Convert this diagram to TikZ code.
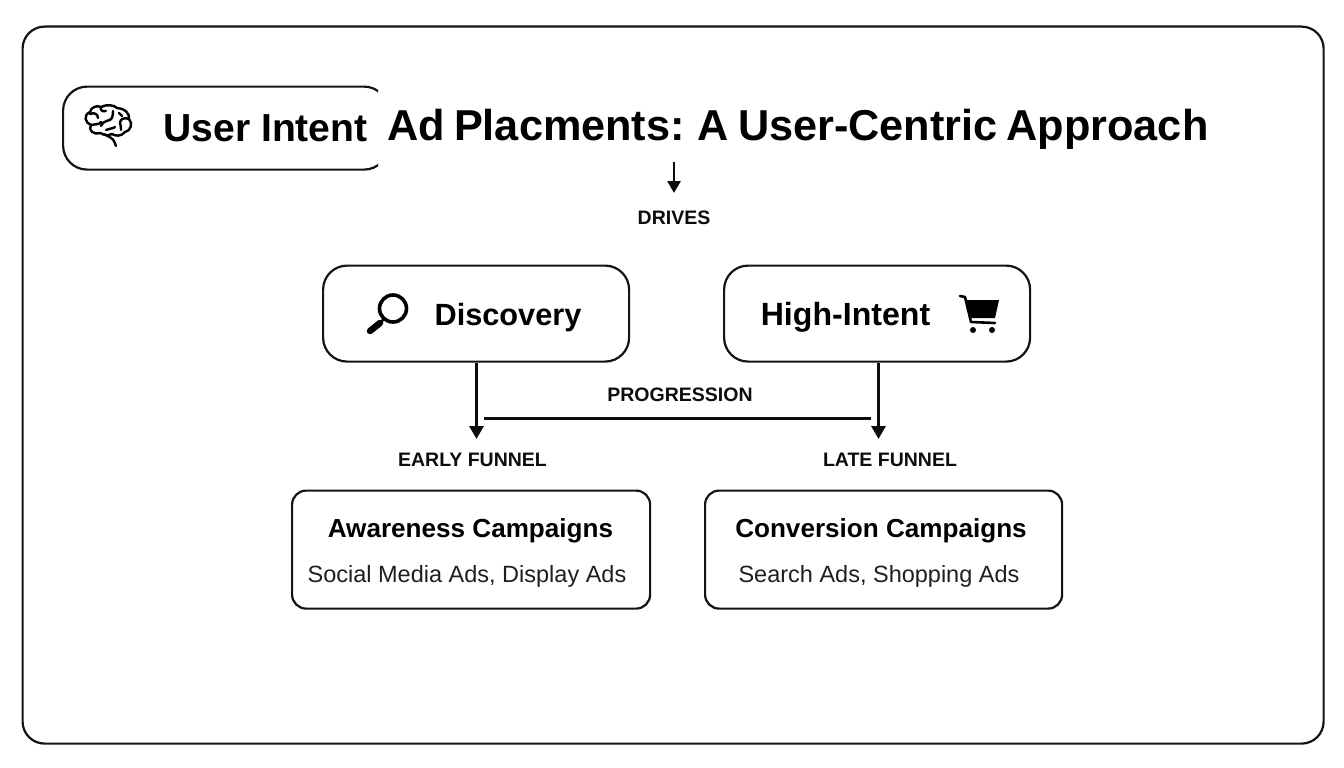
\documentclass[tikz,border=0pt]{standalone}
\usepackage{fontspec}
\setmainfont{Liberation Sans}
\usetikzlibrary{arrows.meta}
\tikzset{
 boxline/.style={draw=black!92!white,line width=2.2pt,fill=white},
 conn/.style={draw=black!95!white,line width=3.3pt},
 arr/.style={conn,-{Triangle[length=13pt,width=14pt]}},
 lab/.style={font=\fontsize{19.5}{22}\selectfont\bfseries,text=black!95!white,inner sep=0pt,anchor=center},
 big/.style={text=black,inner sep=0pt,anchor=center},
 sub/.style={font=\fontsize{26.1}{28}\selectfont\bfseries,text=black,inner sep=0pt,anchor=center},
 det/.style={font=\fontsize{23.5}{26}\selectfont,text=black!88!white,inner sep=0pt,anchor=center},
 ico/.style={draw=black,line width=2.4pt,line cap=round,line join=round},
}
\begin{document}
\begin{tikzpicture}[x=1pt,y=-1pt]
\useasboundingbox (0,0) rectangle (1344,768);
\fill[white] (0,0) rectangle (1344,768);
\node[boxline,rounded corners=22pt,minimum width=1301pt,minimum height=717pt,anchor=north west] (frame) at (21.5,25.5) {};
% User Intent box, cut off at its right side
\begin{scope}
\clip (55,78) rectangle (378,178);
\node[boxline,rounded corners=24pt,minimum width=325pt,minimum height=83pt,anchor=north west] (user) at (62,85.5) {};
\end{scope}
\node[big,font=\fontsize{39.1}{44}\selectfont\bfseries] (usertxt) at (265.5,128.5) {User Intent};
\node[big,font=\fontsize{43.25}{50}\selectfont\bfseries] (title) at (798,129) {\spaceskip=9pt Ad Placments: A User-Centric Approach};
% brain icon
\begin{scope}[ico]
\draw (100,133) .. controls (93,135) and (88,130) .. (91,125)
 .. controls (85,123) and (83,115) .. (90,112)
 .. controls (91,107) and (97,105) .. (101,107)
 .. controls (107,104) and (114,105) .. (117,108)
 .. controls (124,108) and (130,113) .. (129,119)
 .. controls (133,123) and (131,131) .. (125,132)
 .. controls (121,137) and (115,136) .. (112,134)
 .. controls (108,136) and (104,135) .. (100,133);
\draw (103,134) .. controls (109,136) and (113,139) .. (114,141) -- (116,146);
\draw (91,125) .. controls (95,124) and (99,125) .. (101,122);
\draw (90,114) .. controls (94,112) and (98,114) .. (98,118);
\draw (101,107) .. controls (100,110) and (102,112) .. (106,111);
\draw (101,126) .. controls (104,119) and (110,122) .. (112,118) .. controls (114,115) and (112,113) .. (113,111);
\draw (129,119) .. controls (124,117) and (120,119) .. (120,123) .. controls (120,126) and (122,128) .. (121,130);
\draw (106,130) .. controls (109,128) and (113,129) .. (115,127);
\draw (119,113) -- (122,116);
\end{scope}
% drives
\coordinate (drivetop) at (674,162);
\node[lab] (drives) at (674,217.5) {DRIVES};
\draw[conn,line width=2.8pt,-{Triangle[length=12pt,width=13pt]}] (drivetop) -- (674,193);
% middle boxes
\node[boxline,rounded corners=24pt,minimum width=306pt,minimum height=96pt,anchor=north west] (disc) at (322,264.5) {};
\node[boxline,rounded corners=24pt,minimum width=306pt,minimum height=96pt,anchor=north west] (high) at (723,264.5) {};
\node[big,font=\fontsize{30.7}{36}\selectfont\bfseries] (disctxt) at (508,317.5) {Discovery};
\node[big,font=\fontsize{32.1}{36}\selectfont\bfseries] (hightxt) at (845.5,317.5) {High-Intent};
% magnifier
\draw[black,line width=3.6pt] (393,308.5) circle (13.5pt);
\draw[black,line width=2.6pt] (384,319) -- (378,325);
\draw[black,line width=6.5pt,line cap=round] (380,323) -- (370,331);
% cart
\begin{scope}[black]
\draw[line width=2.6pt,line cap=round,line join=round] (960,296) -- (965,297) -- (971,322) -- (995,323);
\fill (966,300) -- (999,300) -- (995,318) -- (971,318) -- cycle;
\fill (973,330) circle (3pt);
\fill (992,330) circle (3pt);
\end{scope}
% bottom boxes
\node[boxline,rounded corners=14pt,minimum width=358pt,minimum height=118pt,anchor=north west] (aware) at (291,489.5) {};
\node[boxline,rounded corners=14pt,minimum width=357pt,minimum height=118pt,anchor=north west] (conv) at (704,489.5) {};
\node[sub] (awt) at (470.5,531) {Awareness Campaigns};
\node[det] (aws) at (467,576) {Social Media Ads, Display Ads};
\node[sub] (cot) at (881,531) {Conversion Campaigns};
\node[det] (cos) at (879,576) {Search Ads, Shopping Ads};
% connectors
\coordinate (discend) at (476.5,439);
\coordinate (highend) at (878.5,439);
\draw[arr] (disc.south -| discend) -- (discend);
\draw[arr] (high.south -| highend) -- (highend);
\coordinate (progl) at (484,418.5);
\coordinate (progr) at (871,418.5);
\draw[conn] (progl) -- (progr);
\node[lab] (prog) at (680,395) {PROGRESSION};
\node[lab] (early) at (472.5,460) {EARLY FUNNEL};
\node[lab] (late) at (890,460) {LATE FUNNEL};
\end{tikzpicture}
\end{document}
